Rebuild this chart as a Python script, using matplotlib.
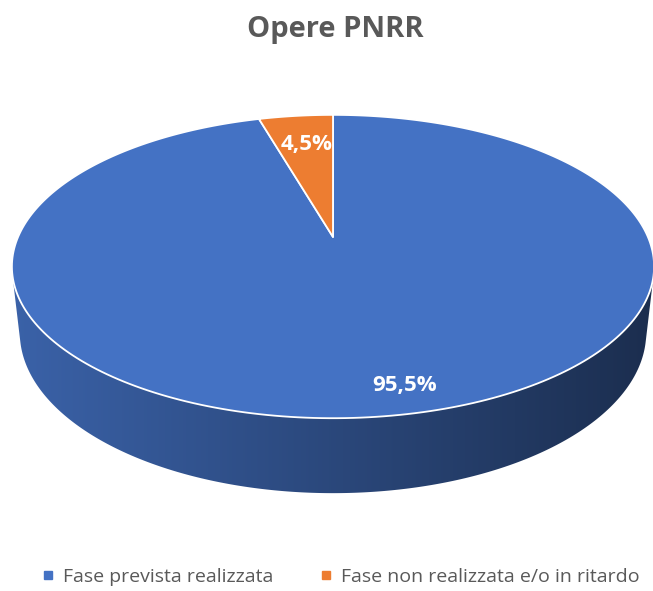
import numpy as np
import matplotlib
matplotlib.use('Agg')
import matplotlib.pyplot as plt
from matplotlib.patches import Polygon
from matplotlib.lines import Line2D
from matplotlib.colors import to_rgb

# dati del grafico
categories = ['Fase prevista realizzata', 'Fase non realizzata e/o in ritardo']
shares = [95.5, 4.5]
labels = ['95,5%', '4,5%']
colors = ['#4472C4', '#ED7D31']
title = 'Opere PNRR'

plt.rcParams['font.family'] = ['Open Sans', 'DejaVu Sans']

# parametri della vista 3D (prospettiva)
ELEV = np.radians(27.6)
DIST = 4.55
FOCAL = 1433.0
DEPTH = 0.2385
CX, CY = 333.0, 237.0


def project(r, theta, z=0.0):
    u = r * np.cos(theta)
    v = r * np.sin(theta)
    d = DIST + v * np.cos(ELEV) - z * np.sin(ELEV)
    xs = FOCAL * u / d
    ys = FOCAL * (v * np.sin(ELEV) + z * np.cos(ELEV)) / d
    return CX + xs, CY - ys


def wedge_angles(values):
    # come Excel: si parte da ore 12 e si gira in senso orario
    total = sum(values)
    out = []
    start = np.pi / 2
    for val in values:
        span = 2 * np.pi * val / total
        out.append((start - span, start))
        start -= span
    return out


fig = plt.figure(figsize=(6.53, 5.91), dpi=100)
ax = fig.add_axes([0, 0, 1, 1])

angles = wedge_angles(shares)

# parte laterale visibile (tra le due tangenti della silhouette)
t_tan = np.arcsin(1.0 / (DIST * np.cos(ELEV)))
vis = np.linspace(np.pi + t_tan, 2 * np.pi - t_tan, 400)

for (a0, a1), col in zip(angles, colors):
    rel = (vis - a0) % (2 * np.pi)
    sel = vis[rel <= (a1 - a0)]
    if len(sel) < 2:
        continue
    tx, ty = project(1.0, sel)
    bx, by = project(1.0, sel[::-1], -DEPTH)
    side = Polygon(np.column_stack([np.r_[tx, bx], np.r_[ty, by]]),
                   closed=True, facecolor='none', edgecolor='none')
    ax.add_patch(side)
    base = np.array(to_rgb(col))
    fac = np.linspace(0.86, 0.40, 256)
    grad = (fac[:, None] * base[None, :])[None, :, :]
    img = ax.imshow(grad, extent=[tx.min() - 2, tx.max() + 2, by.max() + 2, ty.min() - 2],
                    aspect='auto', interpolation='bilinear', zorder=1)
    img.set_clip_path(side)

# faccia superiore
for (a0, a1), col in zip(angles, colors):
    th = np.linspace(a0, a1, 300)
    x, y = project(1.0, th)
    px = np.r_[CX, x]
    py = np.r_[CY, y]
    ax.add_patch(Polygon(np.column_stack([px, py]), closed=True, facecolor=col,
                         edgecolor='white', linewidth=1.3, joinstyle='round', zorder=2))

# etichette
label_r = [0.85, 0.75]
label_dx = [26, 3]
for (a0, a1), lab, r, dx in zip(angles, labels, label_r, label_dx):
    mid = (a0 + a1) / 2
    lx, ly = project(r, mid)
    ax.text(lx + dx, ly + 2, lab, color='white', fontsize=16, fontweight='bold',
            ha='center', va='center', zorder=3)

ax.text(335, 30, title, color='#595959', fontsize=21, fontweight='bold',
        ha='center', va='center')

handles = [Line2D([], [], marker='s', linestyle='none', markersize=6,
                  markerfacecolor=c, markeredgecolor=c) for c in colors]
ax.legend(handles, categories, loc='center', bbox_to_anchor=(339 / 653, 1 - 577 / 591),
          ncol=2, frameon=False, fontsize=14, labelcolor='#595959',
          handletextpad=0.27, columnspacing=2.2, handlelength=1.0)

ax.set_xlim(0, 653)
ax.set_ylim(591, 0)
ax.axis('off')

fig.savefig('out.png', dpi=100, facecolor='white')
